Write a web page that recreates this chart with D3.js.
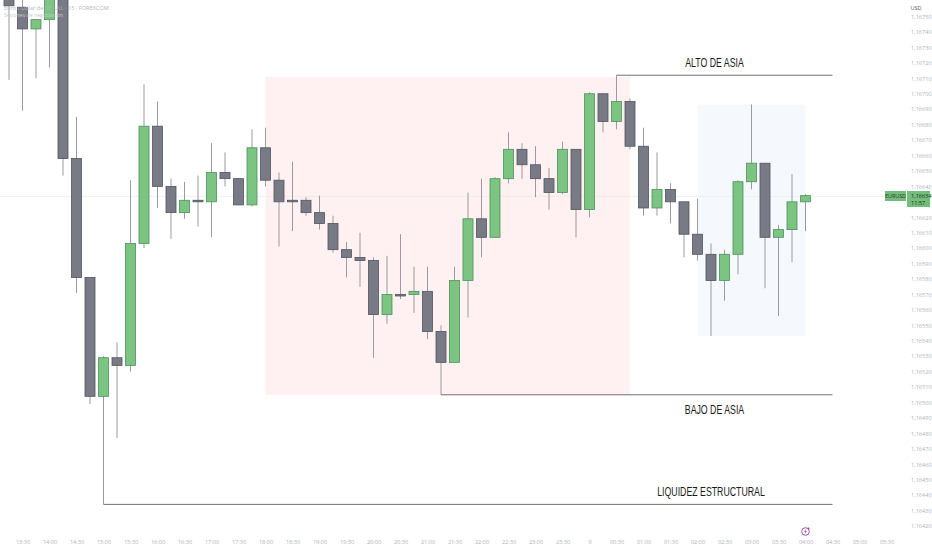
<!DOCTYPE html>
<html>
<head>
<meta charset="utf-8">
<script src="https://cdn.jsdelivr.net/npm/d3@7"></script>
<style>
  html, body { margin: 0; padding: 0; background: #fff; overflow: hidden; }
  text { font-family: "Open Sans", sans-serif; }
</style>
</head>
<body>
<div id="plot"></div>
<script>
// Candles (15 min EURUSD)
const opens = [
  1.16770, 1.16756, 1.16742, 1.16748, 1.16790, 1.16658, 1.16581, 1.16504, 1.16529, 1.16524,
  1.16603, 1.16679, 1.16640, 1.16623, 1.16631, 1.16630, 1.16649, 1.16645, 1.16628, 1.16665,
  1.16644, 1.16631, 1.16631, 1.16623, 1.16616, 1.16599, 1.16594, 1.16592, 1.16557, 1.16570,
  1.16570, 1.16572, 1.16546, 1.16526, 1.16579, 1.16619, 1.16607, 1.16645, 1.16664, 1.16654,
  1.16645, 1.16636, 1.16664, 1.16625, 1.16700, 1.16682, 1.16695, 1.16666, 1.16626, 1.16638,
  1.16630, 1.16609, 1.16596, 1.16579, 1.16596, 1.16643, 1.16655, 1.16607, 1.16612, 1.16630
];
const highs = [
  1.16780, 1.16775, 1.16748, 1.16780, 1.16795, 1.16685, 1.16581, 1.16530, 1.16539, 1.16644,
  1.16706, 1.16695, 1.16645, 1.16643, 1.16647, 1.16668, 1.16662, 1.16645, 1.16677, 1.16678,
  1.16649, 1.16656, 1.16633, 1.16634, 1.16621, 1.16604, 1.16610, 1.16594, 1.16595, 1.16609,
  1.16588, 1.16588, 1.16550, 1.16588, 1.16636, 1.16645, 1.16646, 1.16675, 1.16668, 1.16666,
  1.16652, 1.16669, 1.16664, 1.16701, 1.16700, 1.16712, 1.16697, 1.16678, 1.16662, 1.16642,
  1.16630, 1.16632, 1.16603, 1.16599, 1.16644, 1.16693, 1.16655, 1.16615, 1.16648, 1.16635
];
const lows = [
  1.16709, 1.16689, 1.16710, 1.16717, 1.16647, 1.16571, 1.16499, 1.16434, 1.16477, 1.16520,
  1.16600, 1.16626, 1.16606, 1.16619, 1.16614, 1.16607, 1.16640, 1.16628, 1.16627, 1.16640,
  1.16601, 1.16611, 1.16621, 1.16612, 1.16597, 1.16581, 1.16575, 1.16529, 1.16551, 1.16567,
  1.16558, 1.16541, 1.16505, 1.16526, 1.16555, 1.16594, 1.16607, 1.16642, 1.16645, 1.16633,
  1.16625, 1.16635, 1.16607, 1.16620, 1.16675, 1.16677, 1.16664, 1.16621, 1.16621, 1.16616,
  1.16594, 1.16592, 1.16543, 1.16566, 1.16583, 1.16638, 1.16574, 1.16556, 1.16591, 1.16611
];
const closes = [
  1.16757, 1.16742, 1.16748, 1.16775, 1.16658, 1.16581, 1.16504, 1.16529, 1.16524, 1.16603,
  1.16679, 1.16640, 1.16623, 1.16631, 1.16630, 1.16649, 1.16645, 1.16628, 1.16665, 1.16644,
  1.16630, 1.16630, 1.16623, 1.16616, 1.16599, 1.16594, 1.16592, 1.16557, 1.16570, 1.16569,
  1.16572, 1.16546, 1.16526, 1.16579, 1.16619, 1.16607, 1.16645, 1.16664, 1.16654, 1.16645,
  1.16636, 1.16664, 1.16625, 1.16700, 1.16682, 1.16695, 1.16666, 1.16626, 1.16638, 1.16630,
  1.16609, 1.16596, 1.16579, 1.16596, 1.16643, 1.16655, 1.16607, 1.16612, 1.16630, 1.16634
];

// Axis labels
const timeLabels = [
  "13:30", "14:00", "14:30", "15:00", "15:30", "16:00", "16:30", "17:00", "17:30", "18:00", "18:30",
  "19:00", "19:30", "20:00", "20:30", "21:00", "21:30", "22:00", "22:30", "23:00", "23:30", "9",
  "00:30", "01:00", "01:30", "02:00", "02:30", "03:00", "03:30", "04:00", "04:30", "05:00", "05:30"
];
const priceTicks = [
  1.16750, 1.16740, 1.16730, 1.16720, 1.16710, 1.16700, 1.16690, 1.16680, 1.16670, 1.16660, 1.16650,
  1.16640, 1.16620, 1.16610, 1.16600, 1.16590, 1.16580, 1.16570, 1.16560, 1.16550, 1.16540,
  1.16530, 1.16520, 1.16510, 1.16500, 1.16490, 1.16480, 1.16470, 1.16460, 1.16450, 1.16440, 1.16430, 1.16420
];

// Drawn zones and levels, in candle index / price
const zones = [
  { from: 19, to: 46, top: 1.16711, bottom: 1.16505, color: "#fff1f1" },
  { from: 51, to: 59, top: 1.16693, bottom: 1.16543, color: "#f5f9fe" }
];
const levels = [
  { from: 45, to: 61, price: 1.16712, name: "ALTO DE ASIA", labelAt: 1.16720 },
  { from: 32, to: 61, price: 1.16505, name: "BAJO DE ASIA", labelAt: 1.16495 },
  { from: 7, to: 61, price: 1.16434, name: "LIQUIDEZ ESTRUCTURAL", labelAt: 1.16442 }
];
const lastPrice = 1.16634;

const width = 932;
const height = 550;
const bodyWidth = 10;
const upFill = "#7cc481", upStroke = "#4f8f5b";
const downFill = "#787b86", downStroke = "#50535e";

const svg = d3.select("#plot")
  .append("svg")
  .attr("width", width)
  .attr("height", height)
  .style("display", "block");

// Scales
const x = d3.scaleLinear().domain([0, 59]).range([9, 805.5]);
const y = d3.scaleLinear().domain([1.1674, 1.1642]).range([32, 526]);

const candles = opens.map((o, i) => ({ i, o, h: highs[i], l: lows[i], c: closes[i] }));
const isUp = d => d.c >= d.o;

// Zones
svg.selectAll(".zone")
  .data(zones)
  .enter()
  .append("rect")
  .attr("class", "zone")
  .attr("x", d => x(d.from))
  .attr("y", d => y(d.top))
  .attr("width", d => x(d.to) - x(d.from))
  .attr("height", d => y(d.bottom) - y(d.top))
  .attr("fill", d => d.color);

// Last price line
svg.append("line")
  .attr("x1", 0)
  .attr("x2", 886)
  .attr("y1", y(lastPrice) + 0.7)
  .attr("y2", y(lastPrice) + 0.7)
  .attr("stroke", "#e4ece4")
  .attr("stroke-width", 0.8);

// Wicks
svg.selectAll(".wick")
  .data(candles)
  .enter()
  .append("line")
  .attr("class", "wick")
  .attr("x1", d => x(d.i))
  .attr("x2", d => x(d.i))
  .attr("y1", d => y(d.h))
  .attr("y2", d => y(d.l))
  .attr("stroke", "#9a9ba0")
  .attr("stroke-width", 1);

// Bodies
svg.selectAll(".body")
  .data(candles)
  .enter()
  .append("rect")
  .attr("class", "body")
  .attr("x", d => x(d.i) - bodyWidth / 2)
  .attr("y", d => y(Math.max(d.o, d.c)))
  .attr("width", bodyWidth)
  .attr("height", d => Math.abs(y(d.o) - y(d.c)))
  .attr("fill", d => isUp(d) ? upFill : downFill)
  .attr("stroke", d => isUp(d) ? upStroke : downStroke)
  .attr("stroke-width", 0.8);

// Levels
svg.selectAll(".level")
  .data(levels)
  .enter()
  .append("line")
  .attr("class", "level")
  .attr("x1", d => x(d.from))
  .attr("x2", d => x(d.to))
  .attr("y1", d => y(d.price))
  .attr("y2", d => y(d.price))
  .attr("stroke", "#6f7178")
  .attr("stroke-width", 1);

// The labels use a condensed face, so squeeze the text to 73% of its width
svg.selectAll(".level-label")
  .data(levels)
  .enter()
  .append("text")
  .attr("class", "level-label")
  .attr("x", d => d.name.startsWith("LIQ") ? 711 : 714.5)
  .attr("y", d => y(d.labelAt))
  .attr("dy", "0.35em")
  .attr("text-anchor", "middle")
  .style("font-family", "'Liberation Sans', sans-serif")
  .style("font-size", "12px")
  .style("fill", "#1a1a1a")
  .text(d => d.name)
  .each(function () {
    d3.select(this)
      .attr("textLength", this.getComputedTextLength() * 0.73)
      .attr("lengthAdjust", "spacingAndGlyphs");
  });

// Price axis
const yAxis = svg.append("g")
  .attr("transform", "translate(906, 0)")
  .call(d3.axisRight(y)
    .tickValues(priceTicks)
    .tickSize(0)
    .tickPadding(5)
    .tickFormat(d => d3.format(".5f")(d).replace(".", ",")));
yAxis.select(".domain").remove();
yAxis.selectAll("text")
  .style("font-size", "5.6px")
  .style("fill", "#b0b3b8");

// Time axis
const xAxis = svg.append("g")
  .attr("transform", "translate(0, 540.5)")
  .call(d3.axisBottom(x)
    .tickValues(timeLabels.map((t, k) => 1 + k * 2))
    .tickSize(0)
    .tickPadding(0)
    .tickFormat((d, k) => timeLabels[k]));
xAxis.select(".domain").remove();
xAxis.selectAll("text")
  .style("font-size", "5.6px")
  .style("fill", "#b0b3b8");

// Axis header
svg.append("rect")
  .attr("x", 907)
  .attr("y", 0)
  .attr("width", 25)
  .attr("height", 14)
  .attr("fill", "#fff");
svg.append("text")
  .attr("x", 916)
  .attr("y", 10)
  .attr("text-anchor", "middle")
  .style("font-size", "5.6px")
  .style("fill", "#55585f")
  .text("USD");

// Last price tags
svg.append("rect")
  .attr("x", 885)
  .attr("y", 191)
  .attr("width", 21)
  .attr("height", 10)
  .attr("fill", "#74bd7b");
svg.append("text")
  .attr("x", 895.5)
  .attr("y", 198)
  .attr("text-anchor", "middle")
  .style("font-size", "5.4px")
  .style("fill", "#1f3d25")
  .text("EURUSD");
svg.append("rect")
  .attr("x", 907)
  .attr("y", 191)
  .attr("width", 23)
  .attr("height", 16)
  .attr("fill", "#74bd7b");
svg.append("text")
  .attr("x", 911)
  .attr("y", 198)
  .style("font-size", "5.6px")
  .style("fill", "#14301b")
  .text(d3.format(".5f")(lastPrice).replace(".", ","));
svg.append("text")
  .attr("x", 911)
  .attr("y", 205)
  .style("font-size", "5.6px")
  .style("fill", "#14301b")
  .text("11:57");

// Header text top left
svg.append("text")
  .attr("x", 4)
  .attr("y", 10)
  .style("font-size", "5.6px")
  .style("fill", "#b4b6ba")
  .text("Euro / Dólar de EE. UU. · 15 · FOREXCOM");
svg.append("text")
  .attr("x", 4)
  .attr("y", 17)
  .style("font-size", "5.2px")
  .style("fill", "#c8cacd")
  .text("Sesiones de negociación");

// Small event icon on the time axis
const icon = svg.append("g").attr("transform", `translate(${x(59)}, 531.5)`);
icon.append("circle")
  .attr("r", 3.8)
  .attr("fill", "#fff")
  .attr("stroke", "#a04fb0")
  .attr("stroke-width", 1);
icon.append("path")
  .attr("d", "M0.6,-2.4 L-1.4,0.3 L-0.1,0.3 L-0.6,2.4 L1.4,-0.4 L0.1,-0.4 Z")
  .attr("fill", "#a04fb0");
icon.append("circle")
  .attr("cx", 3)
  .attr("cy", -3)
  .attr("r", 1)
  .attr("fill", "#d8345f");
</script>
</body>
</html>
